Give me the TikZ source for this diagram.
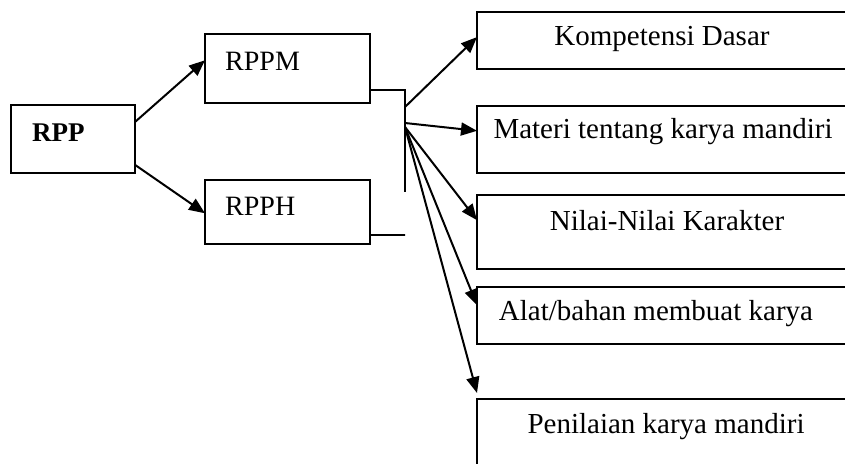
\documentclass[tikz,border=0pt]{standalone}
\usepackage{fontspec}
\setmainfont{Liberation Serif}
\usetikzlibrary{arrows.meta,calc}
\begin{document}
\begin{tikzpicture}[x=1pt,y=-1pt,
    kotak/.style={draw,line width=2pt,inner sep=0pt,outer sep=0pt,anchor=north west},
    judul/.style={anchor=base west,inner sep=0pt,font=\fontsize{28}{32}\selectfont},
    isi/.style={anchor=base,inner sep=0pt,font=\fontsize{29}{33}\selectfont},
    panah/.style={line width=2pt,-{Triangle[length=16pt,width=13pt]}},
    garis/.style={line width=1.8pt}]

    \def\kiri{477}%Tepi kiri kotak kanan
    \def\lebar{373}%Lebar kotak kanan

    \useasboundingbox (0,0) rectangle (845,463);
    \clip (0,0) rectangle (845,463);

    %Kotak kiri
    \node[kotak,minimum width=124,minimum height=68] (rpp) at (11,105) {};
    \node[kotak,minimum width=165,minimum height=69] (rppm) at (205,34) {};
    \node[kotak,minimum width=165,minimum height=64] (rpph) at (205,180) {};
    \node[judul,font=\fontsize{27}{31}\selectfont\bfseries] (trpp) at (32,141) {RPP};
    \node[judul] (trppm) at (225,70) {RPPM};
    \node[judul] (trpph) at (225,215) {RPPH};

    %Kotak kanan
    \foreach \n/\y/\h in {1/12/57,2/106/67,3/195/74,4/287/57,5/399/80}
        \node[kotak,minimum width=\lebar,minimum height=\h] (k\n) at (\kiri,\y) {};
    \foreach \n/\x/\y/\teks in {1/662/45/Kompetensi Dasar,2/663/138/Materi tentang karya mandiri,3/667/230/Nilai-Nilai Karakter,4/656/320/{Alat/bahan membuat karya},5/666/433/Penilaian karya mandiri}
        \node[isi] (t\n) at (\x,\y) {\teks};

    %Panah RPP
    \draw[panah] ($(rpp.north east)!0.25!(rpp.south east)$) -- ($(rppm.north west)!0.38!(rppm.south west)$);
    \draw[panah] ($(rpp.north east)!0.88!(rpp.south east)$) -- ($(rpph.north west)!0.52!(rpph.south west)$);

    %Kurung
    \coordinate (ujung) at (405,192);
    \coordinate (kaki) at (405,235);
    \draw[garis] ($(rppm.north east)!0.81!(rppm.south east)$) -| (ujung);
    \draw[garis] ($(rpph.north east)!0.86!(rpph.south east)$) -- (kaki);

    %Panah kanan
    \coordinate (f1) at (405,107);
    \coordinate (f2) at (405,123);
    \coordinate (f3) at (405,127);
    \draw[panah] (f1) -- ($(k1.north west)!0.44!(k1.south west)$);
    \draw[panah] (f2) -- ($(k2.north west)!0.37!(k2.south west)$);
    \draw[panah] (f3) -- ($(k3.north west)!0.34!(k3.south west)$);
    \draw[panah] (f3) -- ($(k4.north west)!0.32!(k4.south west)$);
    \draw[panah] (f3) -- ([yshift=6pt]k5.north west);

\end{tikzpicture}
\end{document}
